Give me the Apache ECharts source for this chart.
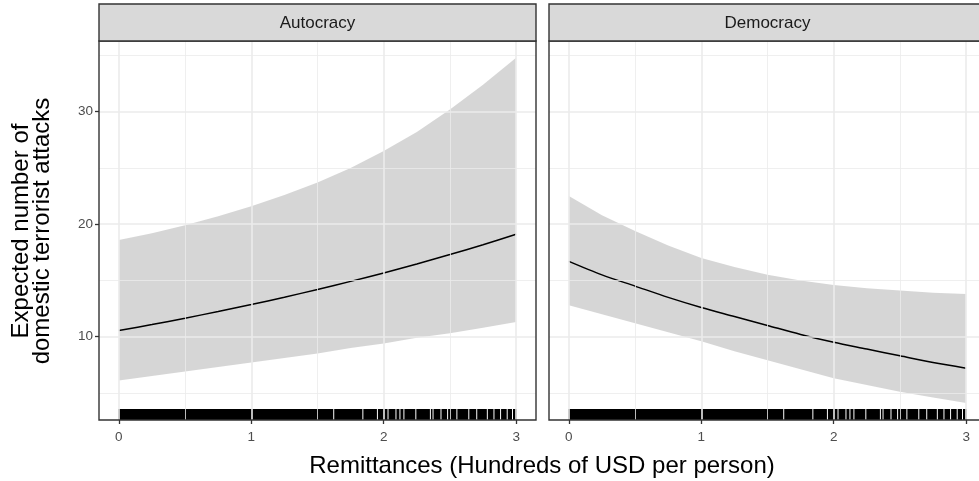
<!DOCTYPE html>
<html><head><meta charset="utf-8">
<script src="https://cdn.jsdelivr.net/npm/echarts@6/dist/echarts.min.js"></script>
<style>html,body{margin:0;padding:0;background:#fff}#c{width:979px;height:481px}</style>
</head><body><div id="c"></div>
<script>
// ---- data ----
const panels = ['Autocracy', 'Democracy'];
const xs = [0, 0.25, 0.5, 0.75, 1, 1.25, 1.5, 1.75, 2, 2.25, 2.5, 2.75, 3];
const autoMean  = [10.55, 11.08, 11.65, 12.24, 12.86, 13.51, 14.2, 14.92, 15.67, 16.47, 17.3, 18.18, 19.1];
const autoLower = [6.1, 6.5, 6.9, 7.3, 7.7, 8.1, 8.5, 9.0, 9.4, 9.9, 10.3, 10.8, 11.3];
const autoUpper = [18.6, 19.2, 19.9, 20.7, 21.6, 22.6, 23.7, 25.0, 26.5, 28.2, 30.2, 32.4, 34.8];
const demoMean  = [16.7, 15.5, 14.5, 13.5, 12.6, 11.8, 11.0, 10.2, 9.5, 8.9, 8.3, 7.7, 7.2];
const demoLower = [12.8, 12.0, 11.2, 10.4, 9.6, 8.7, 7.9, 7.1, 6.3, 5.7, 5.1, 4.6, 4.1];
const demoUpper = [22.5, 20.8, 19.4, 18.1, 17.0, 16.2, 15.5, 15.0, 14.6, 14.3, 14.1, 13.9, 13.8];
// rug: observed remittance values, drawn as contiguous blocks of ticks [from, to]
const rugBlocks = [[0,1.615],[1.63,1.835],[1.85,1.945],[1.96,2.025],[2.04,2.085],[2.10,2.115],[2.13,2.145],[2.16,2.235],[2.25,2.345],[2.36,2.365],[2.38,2.425],[2.44,2.475],[2.49,2.545],[2.56,2.635],[2.65,2.695],[2.71,2.775],[2.79,2.825],[2.84,2.875],[2.89,2.925],[2.94,2.965],[2.98,3.0]];
const xBreaks = [0, 1, 2, 3];
const xMinor = [0.5, 1.5, 2.5];
const yBreaks = [10, 20, 30];
const yMinor = [5, 15, 25, 35];
const xRange = [-0.15, 3.15];
const yRange = [2.6, 36.28];
const xTitle = 'Remittances (Hundreds of USD per person)';
const yTitle = 'Expected number of\ndomestic terrorist attacks';

const FONT = '"Liberation Sans", Arial, Helvetica, sans-serif';
const gridTop = 41, gridH = 379, gridW = 437;
const gridLefts = [99, 549];
const CW = 979;

const bands = [
  {lower: autoLower, upper: autoUpper, mean: autoMean},
  {lower: demoLower, upper: demoUpper, mean: demoMean}
];

const grids = [], xAxes = [], yAxes = [], series = [], graphics = [];
panels.forEach((name, i) => {
  // the second panel runs past the canvas edge; keep the same pixel scale
  const visW = Math.min(gridW, CW - gridLefts[i]);
  const xMax = xRange[0] + (xRange[1] - xRange[0]) * visW / gridW;
  grids.push({left: gridLefts[i], top: gridTop, width: visW, height: gridH,
    show: false, containLabel: false});
  xAxes.push({type: 'value', gridIndex: i, min: xRange[0], max: xMax, position: 'bottom',
    axisLine: {show: false, onZero: false}, splitLine: {show: false},
    axisTick: {show: true, customValues: xBreaks, length: 4, lineStyle: {color: '#333333', width: 1.3}},
    axisLabel: {show: true, customValues: xBreaks, color: '#4D4D4D', fontSize: 13.5, fontFamily: FONT, margin: 10}
  });
  yAxes.push({type: 'value', gridIndex: i, min: yRange[0], max: yRange[1], position: 'left',
    axisLine: {show: false, onZero: false}, splitLine: {show: false},
    axisTick: {show: i === 0, customValues: yBreaks, length: 4, lineStyle: {color: '#333333', width: 1.3}},
    axisLabel: {show: i === 0, customValues: yBreaks, color: '#4D4D4D', fontSize: 13.5, fontFamily: FONT, margin: 6}
  });
  // grid lines
  const ml = [];
  xMinor.forEach(v => ml.push({xAxis: v, lineStyle: {color: '#EBEBEB', width: 0.8, type: 'solid'}}));
  yMinor.forEach(v => ml.push({yAxis: v, lineStyle: {color: '#EBEBEB', width: 0.8, type: 'solid'}}));
  xBreaks.forEach(v => ml.push({xAxis: v, lineStyle: {color: '#EBEBEB', width: 1.6, type: 'solid'}}));
  yBreaks.forEach(v => ml.push({yAxis: v, lineStyle: {color: '#EBEBEB', width: 1.6, type: 'solid'}}));
  series.push({type: 'line', xAxisIndex: i, yAxisIndex: i, data: [], silent: true, z: 1,
    markLine: {silent: true, symbol: ['none', 'none'], label: {show: false}, animation: false, data: ml}});
  // band
  const b = bands[i];
  series.push({type: 'custom', xAxisIndex: i, yAxisIndex: i, z: 2, silent: true,
    data: xs.map((x, k) => [x, b.lower[k], b.upper[k]]),
    encode: {x: 0, y: [1, 2]},
    renderItem: function (params, api) {
      if (params.dataIndex !== 0) return;
      const pts = [];
      xs.forEach((x, k) => pts.push(api.coord([x, b.upper[k]])));
      for (let k = xs.length - 1; k >= 0; k--) pts.push(api.coord([xs[k], b.lower[k]]));
      return {type: 'polygon', shape: {points: pts}, style: {fill: 'rgba(153,153,153,0.4)'}};
    }
  });
  // mean line
  series.push({type: 'line', xAxisIndex: i, yAxisIndex: i, z: 3, silent: true, smooth: 0.3,
    showSymbol: false, data: xs.map((x, k) => [x, b.mean[k]]),
    lineStyle: {color: '#000000', width: 1.5}});
  // rug
  series.push({type: 'custom', xAxisIndex: i, yAxisIndex: i, z: 4, silent: true,
    data: rugBlocks.map(r => [r[0], r[1]]),
    encode: {x: [0, 1]},
    renderItem: function (params, api) {
      const a = api.coord([api.value(0), yRange[0]]);
      const e = api.coord([api.value(1), yRange[0]]);
      const len = 11;
      return {type: 'rect', shape: {x: a[0] - 0.5, y: a[1] - len, width: Math.max(e[0] - a[0] + 1, 1), height: len},
        style: {fill: '#000000'}};
    }
  });
  // panel border
  graphics.push({type: 'rect', shape: {x: gridLefts[i], y: gridTop, width: gridW, height: gridH},
    style: {fill: 'none', stroke: '#333333', lineWidth: 1.4}, z: 10, silent: true});
  // strip
  graphics.push({type: 'rect', shape: {x: gridLefts[i], y: 4, width: gridW, height: gridTop - 4},
    style: {fill: '#D9D9D9', stroke: '#333333', lineWidth: 1.4}, z: 10, silent: true});
  graphics.push({type: 'text', x: gridLefts[i] + gridW / 2, y: (4 + gridTop) / 2 + 1,
    style: {text: name, fill: '#1A1A1A', font: '17px ' + FONT, textAlign: 'center', textVerticalAlign: 'middle'}, z: 11});
});

graphics.push({type: 'text', x: 542, y: 466,
  style: {text: xTitle, fill: '#000000', font: '24px ' + FONT, textAlign: 'center', textVerticalAlign: 'middle'}});
graphics.push({type: 'text', x: 32, y: 231, rotation: Math.PI / 2,
  style: {text: yTitle, fill: '#000000', font: '24px ' + FONT, textAlign: 'center', textVerticalAlign: 'middle', lineHeight: 21}});

const chart = echarts.init(document.getElementById('c'), null, {renderer: 'canvas'});
chart.setOption({
  animation: false,
  backgroundColor: '#ffffff',
  grid: grids, xAxis: xAxes, yAxis: yAxes, series: series, graphic: graphics
});
</script></body></html>
